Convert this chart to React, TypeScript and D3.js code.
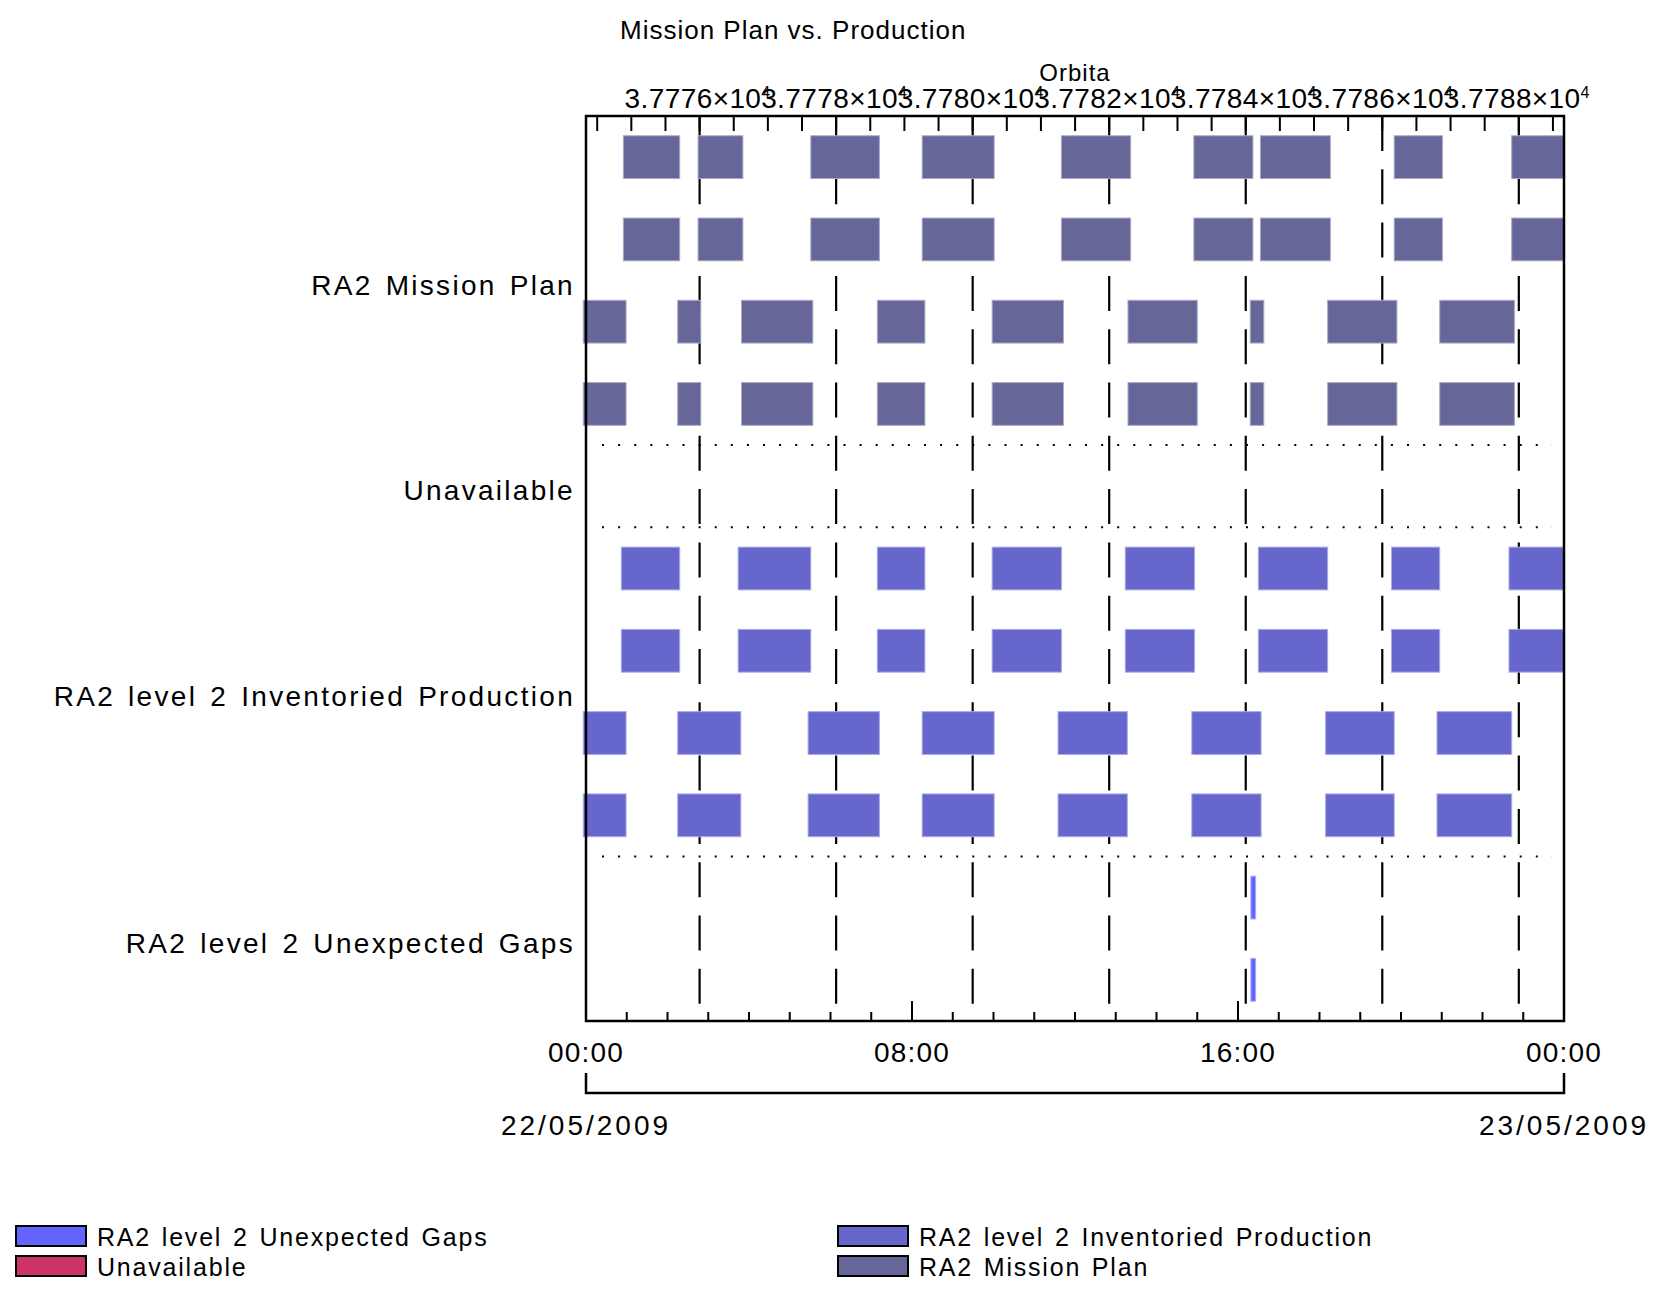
import React from "react";
import * as d3 from "d3";

// ---------- data ----------
const chartTitle = "Mission Plan vs. Production";
const orbitAxisTitle = "Orbita";

const categories = [
  "RA2 Mission Plan",
  "Unavailable",
  "RA2 level 2 Inventoried Production",
  "RA2 level 2 Unexpected Gaps",
];
const categorySubRows = [4, 1, 4, 2];

const categoryColors = ["#666699", "#cc3366", "#6666cc", "#6464ff"];

// time window of the chart
const dayStart = "2009-05-22 00:00:00";
const dayEnd = "2009-05-23 00:00:00";

// orbit reference points (orbit number -> start time)
const orbitRefNumbers = [37776, 37788];
const orbitRefTimes = ["2009-05-22 02:47:16", "2009-05-22 22:53:28"];
const orbitMinorStep = 0.5;
const orbitLabelStep = 2;
const orbitAxisFirst = 37774.5;
const orbitAxisLast = 37788.5;

// RA2 Mission Plan, sub-rows 1 and 2
const missionPlanA = [
  ["2009-05-22 00:55:00", "2009-05-22 02:18:00"],
  ["2009-05-22 02:45:00", "2009-05-22 03:51:00"],
  ["2009-05-22 05:31:00", "2009-05-22 07:12:00"],
  ["2009-05-22 08:15:00", "2009-05-22 10:01:00"],
  ["2009-05-22 11:40:00", "2009-05-22 13:22:00"],
  ["2009-05-22 14:55:00", "2009-05-22 16:22:00"],
  ["2009-05-22 16:33:00", "2009-05-22 18:16:00"],
  ["2009-05-22 19:50:00", "2009-05-22 21:01:00"],
  ["2009-05-22 22:43:00", "2009-05-23 00:00:00"],
];
// RA2 Mission Plan, sub-rows 3 and 4
const missionPlanB = [
  ["2009-05-21 23:56:00", "2009-05-22 00:59:00"],
  ["2009-05-22 02:15:00", "2009-05-22 02:49:00"],
  ["2009-05-22 03:49:00", "2009-05-22 05:34:00"],
  ["2009-05-22 07:09:00", "2009-05-22 08:19:00"],
  ["2009-05-22 09:58:00", "2009-05-22 11:43:00"],
  ["2009-05-22 13:18:00", "2009-05-22 15:00:00"],
  ["2009-05-22 16:18:00", "2009-05-22 16:38:00"],
  ["2009-05-22 18:12:00", "2009-05-22 19:54:00"],
  ["2009-05-22 20:57:00", "2009-05-22 22:47:00"],
];
// RA2 level 2 Inventoried Production, sub-rows 1 and 2
const inventoriedA = [
  ["2009-05-22 00:52:00", "2009-05-22 02:18:00"],
  ["2009-05-22 03:44:00", "2009-05-22 05:31:00"],
  ["2009-05-22 07:09:00", "2009-05-22 08:19:00"],
  ["2009-05-22 09:58:00", "2009-05-22 11:40:00"],
  ["2009-05-22 13:14:00", "2009-05-22 14:56:00"],
  ["2009-05-22 16:30:00", "2009-05-22 18:12:00"],
  ["2009-05-22 19:46:00", "2009-05-22 20:57:00"],
  ["2009-05-22 22:39:00", "2009-05-23 00:00:00"],
];
// RA2 level 2 Inventoried Production, sub-rows 3 and 4
const inventoriedB = [
  ["2009-05-21 23:56:00", "2009-05-22 00:59:00"],
  ["2009-05-22 02:15:00", "2009-05-22 03:48:00"],
  ["2009-05-22 05:27:00", "2009-05-22 07:12:00"],
  ["2009-05-22 08:15:00", "2009-05-22 10:01:00"],
  ["2009-05-22 11:35:00", "2009-05-22 13:17:00"],
  ["2009-05-22 14:52:00", "2009-05-22 16:34:00"],
  ["2009-05-22 18:09:00", "2009-05-22 19:50:00"],
  ["2009-05-22 20:53:00", "2009-05-22 22:43:00"],
];
// RA2 level 2 Unexpected Gaps, sub-rows 1 and 2
const unexpectedGaps = [["2009-05-22 16:19:00", "2009-05-22 16:26:00"]];
// Unavailable: no intervals
const unavailable: string[][] = [];

// which series goes on each sub-row (in category order)
const subRowSeries = [
  missionPlanA, missionPlanA, missionPlanB, missionPlanB,
  unavailable,
  inventoriedA, inventoriedA, inventoriedB, inventoriedB,
  unexpectedGaps, unexpectedGaps,
];

const legendLeft = ["RA2 level 2 Unexpected Gaps", "Unavailable"];
const legendRight = ["RA2 level 2 Inventoried Production", "RA2 Mission Plan"];

// ---------- layout ----------
const W = 1668;
const H = 1292;
const plot = { left: 586, right: 1564, top: 116, bottom: 1021 };
const FONT = "'Liberation Sans', Arial, sans-serif";

const parse = d3.utcParse("%Y-%m-%d %H:%M:%S");

export default function App() {
  const x = d3
    .scaleUtc()
    .domain([parse(dayStart)!, parse(dayEnd)!])
    .range([plot.left, plot.right]);

  const orbit = d3
    .scaleLinear()
    .domain(orbitRefNumbers)
    .range(orbitRefTimes.map((t) => x(parse(t)!)));

  // sub-row slots
  const slotKeys: string[] = [];
  const slotCategory: number[] = [];
  categories.forEach((c, ci) => {
    for (let k = 0; k < categorySubRows[ci]; k++) {
      slotKeys.push(`${ci}-${k}`);
      slotCategory.push(ci);
    }
  });
  const y = d3
    .scaleBand<string>()
    .domain(slotKeys)
    .range([plot.top, plot.bottom])
    .paddingInner(0.48)
    .paddingOuter(0.24);
  const step = y.step();

  // category bands
  const catBounds = categories.map((_, ci) => {
    const keys = slotKeys.filter((_, i) => slotCategory[i] === ci);
    const top = y(keys[0])! - y.paddingOuter() * step;
    const bottom = y(keys[keys.length - 1])! + y.bandwidth() + y.paddingOuter() * step;
    return { top, bottom, mid: (top + bottom) / 2 };
  });

  const orbitMinor = d3.range(orbitAxisFirst, orbitAxisLast + 0.001, orbitMinorStep);
  const orbitMajor = d3.range(orbitRefNumbers[0], orbitRefNumbers[1] + 0.001, orbitLabelStep);

  const hourTicks = x.ticks(d3.utcHour.every(1)!);
  const labelTicks = x.ticks(d3.utcHour.every(8)!);
  const fmtHour = d3.utcFormat("%H:%M");
  const fmtDate = d3.utcFormat("%d/%m/%Y");
  const [d0, d1] = x.domain();

  const labelStyle = { fontFamily: FONT, fontSize: 28, letterSpacing: 2.3, wordSpacing: 3 } as const;
  const hourStyle = { fontFamily: FONT, fontSize: 28, letterSpacing: 1.2 } as const;
  const dateStyle = { fontFamily: FONT, fontSize: 28, letterSpacing: 3 } as const;
  const legendStyle = { fontFamily: FONT, fontSize: 25, letterSpacing: 1.8, wordSpacing: 2 } as const;

  // dotted separators between categories
  const separators = catBounds.slice(0, -1).map((b) => b.bottom);

  return (
    <div style={{ position: "absolute", left: 0, top: 0 }}>
      <svg width={W} height={H} style={{ display: "block", background: "#fff" }}>
        {/* title */}
        <text x={620} y={39} style={{ fontFamily: FONT, fontSize: 26, letterSpacing: 1 }} fill="#000">
          {chartTitle}
        </text>

        {/* orbit axis title */}
        <text
          x={(plot.left + plot.right) / 2}
          y={81}
          textAnchor="middle"
          style={{ fontFamily: FONT, fontSize: 24, letterSpacing: 1 }}
        >
          {orbitAxisTitle}
        </text>

        {/* orbit tick labels */}
        {orbitMajor.map((o) => {
          const s = (o / 10000).toFixed(4);
          return (
            <text
              key={`ol${o}`}
              x={orbit(o) - 75}
              y={108}
              style={{ fontFamily: FONT, fontSize: 28, letterSpacing: 0.4 }}
            >
              {`${s}×10`}
              <tspan dy={-10} style={{ fontSize: 16 }}>
                4
              </tspan>
            </text>
          );
        })}

        {/* dashed orbit lines */}
        {orbitMajor.map((o) => (
          <line
            key={`od${o}`}
            x1={orbit(o)}
            x2={orbit(o)}
            y1={plot.top}
            y2={plot.bottom}
            stroke="#000"
            strokeWidth={2.2}
            strokeDasharray="35 18.3"
          />
        ))}

        {/* dotted category separators */}
        {separators.map((sy, i) => (
          <line
            key={`sep${i}`}
            x1={602}
            x2={1552}
            y1={sy}
            y2={sy}
            stroke="#000"
            strokeWidth={2}
            strokeDasharray="2 14.1"
          />
        ))}

        {/* bars */}
        {subRowSeries.map((series, si) => {
          const ci = slotCategory[si];
          const col = categoryColors[ci];
          const stroke = d3.interpolateRgb(col, "#ffffff")(0.45);
          return series.map((iv, k) => {
            const x0 = x(parse(iv[0])!);
            const x1 = Math.min(x(parse(iv[1])!), plot.right);
            return (
              <rect
                key={`b${si}-${k}`}
                x={x0}
                y={y(slotKeys[si])!}
                width={Math.max(1, x1 - x0)}
                height={y.bandwidth()}
                fill={col}
                stroke={stroke}
                strokeWidth={1}
              />
            );
          });
        })}

        {/* top orbit minor ticks */}
        {orbitMinor.map((o) => (
          <line
            key={`ot${o}`}
            x1={orbit(o)}
            x2={orbit(o)}
            y1={plot.top}
            y2={plot.top + 15}
            stroke="#000"
            strokeWidth={2}
          />
        ))}

        {/* bottom hour ticks */}
        {hourTicks.map((t) => {
          const major = t.getUTCHours() % 8 === 0;
          return (
            <line
              key={`ht${+t}`}
              x1={x(t)}
              x2={x(t)}
              y1={plot.bottom}
              y2={plot.bottom - (major ? 20 : 9)}
              stroke="#000"
              strokeWidth={2}
            />
          );
        })}

        {/* frame */}
        <rect
          x={plot.left}
          y={plot.top}
          width={plot.right - plot.left}
          height={plot.bottom - plot.top}
          fill="none"
          stroke="#000"
          strokeWidth={2.5}
        />

        {/* category labels */}
        {categories.map((c, ci) => (
          <text key={`cl${ci}`} x={575} y={catBounds[ci].mid + 14} textAnchor="end" style={labelStyle}>
            {c}
          </text>
        ))}

        {/* hour labels */}
        {labelTicks.map((t) => (
          <text key={`hl${+t}`} x={x(t)} y={1062} textAnchor="middle" style={hourStyle}>
            {fmtHour(t)}
          </text>
        ))}

        {/* date bracket */}
        <path
          d={`M${x(d0)},1073V1093H${x(d1)}V1073`}
          fill="none"
          stroke="#000"
          strokeWidth={2.5}
        />
        {[d0, d1].map((d) => (
          <text key={`dl${+d}`} x={x(d)} y={1135} textAnchor="middle" style={dateStyle}>
            {fmtDate(d)}
          </text>
        ))}

        {/* legend */}
        {[legendLeft, legendRight].map((col, colIdx) =>
          col.map((name, r) => {
            const sx = colIdx === 0 ? 16 : 838;
            const sy = 1226 + r * 30;
            const ci = categories.indexOf(name);
            return (
              <g key={`lg${name}`}>
                <rect
                  x={sx}
                  y={sy}
                  width={70}
                  height={20}
                  fill={categoryColors[ci]}
                  stroke="#000"
                  strokeWidth={2}
                />
                <text x={sx + 81} y={sy + 20} style={legendStyle}>
                  {name}
                </text>
              </g>
            );
          })
        )}
      </svg>
    </div>
  );
}
